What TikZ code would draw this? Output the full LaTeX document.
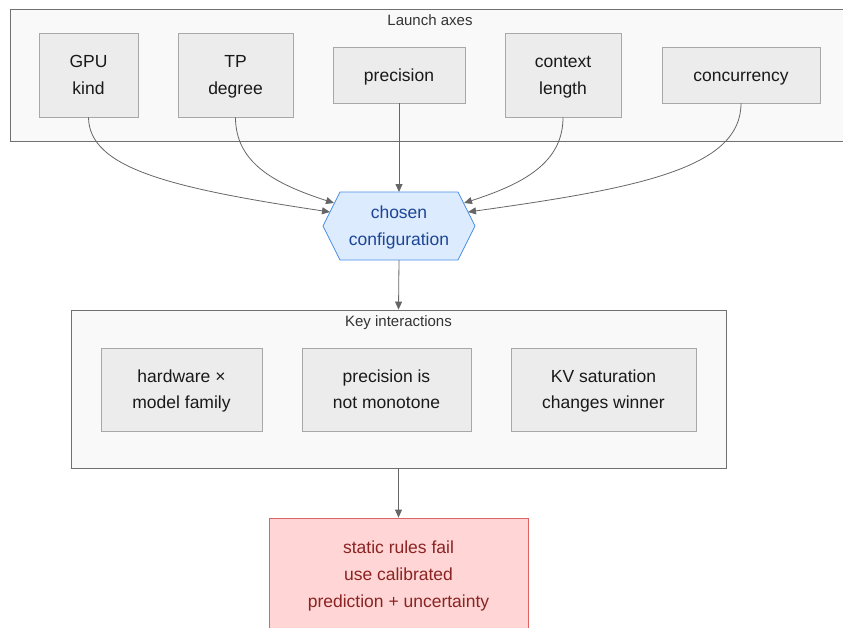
\documentclass[tikz,border=0pt]{standalone}
\usepackage{fontspec}
\setmainfont{Liberation Sans}
\usetikzlibrary{arrows.meta,calc}
\definecolor{framefill}{HTML}{F9F9F9}
\definecolor{framedraw}{HTML}{707070}
\definecolor{boxfill}{HTML}{ECECEC}
\definecolor{boxdraw}{HTML}{A8A8A8}
\definecolor{hexfill}{HTML}{DCEBFD}
\definecolor{hexdraw}{HTML}{4A8FE4}
\definecolor{hextext}{HTML}{1D4596}
\definecolor{redfill}{HTML}{FFD6D5}
\definecolor{reddraw}{HTML}{E06363}
\definecolor{redtext}{HTML}{8A2323}
\definecolor{conncol}{HTML}{666666}
\definecolor{titlecol}{HTML}{333333}
\newcommand{\lstrut}{\rule[-7.2pt]{0pt}{26.5pt}}
\newcommand{\rstrut}{\rule[-7.45pt]{0pt}{27pt}}
\begin{document}
\begin{tikzpicture}[x=1pt,y=-1pt,
  frame/.style={draw=framedraw,fill=framefill,line width=0.8pt,inner sep=0pt},
  axbox/.style={draw=boxdraw,fill=boxfill,line width=0.8pt,inner sep=0pt,align=center,
    text=black!90,font=\fontsize{17.5}{26.5}\selectfont},
  hexbox/.style={inner sep=0pt,align=center,text=hextext,
    minimum width=152pt,minimum height=68pt,font=\fontsize{17.5}{26.5}\selectfont},
  hexline/.style={draw=hexdraw,fill=hexfill,line width=0.8pt,line join=miter},
  redbox/.style={draw=reddraw,fill=redfill,line width=0.8pt,inner sep=0pt,align=center,text=redtext,
    font=\fontsize{17.5}{27}\selectfont},
  ftitle/.style={text=titlecol,font=\fontsize{15}{18}\selectfont,inner sep=0pt},
  conn/.style={draw=conncol,line width=0.8pt,-{Triangle[length=8pt,width=7pt]}}]
\useasboundingbox (0,0) rectangle (843,627);
\clip (0,0) rectangle (843,627);
% Launch axes frame
\node[frame,minimum width=840pt,minimum height=132pt] (launch) at (430,75) {};
\node[ftitle] (launchtitle) at (430,20) {Launch axes};
\node[axbox,minimum width=99pt,minimum height=84pt] (gpu) at (88.5,75) {\lstrut GPU\\\lstrut kind};
\node[axbox,minimum width=115pt,minimum height=84pt] (tp) at (235.5,75) {\lstrut TP\\\lstrut degree};
\node[axbox,minimum width=132pt,minimum height=56pt] (prec) at (399,75) {\lstrut precision};
\node[axbox,minimum width=116pt,minimum height=84pt] (ctx) at (563,75) {\lstrut context\\\lstrut length};
\node[axbox,minimum width=158pt,minimum height=56pt] (conc) at (741,75) {\lstrut concurrency};
% hexagon
\path[hexline] (323,226) -- (340,192) -- (458,192) -- (475,226) -- (458,260) -- (340,260) -- cycle;
\node[hexbox] (hex) at (399,226) {\lstrut chosen\\\lstrut configuration};
\coordinate (hexL1) at (330,212);
\coordinate (hexL2) at (334,203);
\coordinate (hexR1) at (464,203);
\coordinate (hexR2) at (468,212);
\coordinate (hexT) at (399,192);
\coordinate (hexB) at (399,260);
% Key interactions frame
\node[frame,minimum width=655pt,minimum height=158pt] (key) at (398.5,389) {};
\node[ftitle] (keytitle) at (398.5,323) {Key interactions};
\node[axbox,minimum width=161pt,minimum height=83pt] (hw) at (181.5,389.5) {\lstrut hardware ×\\\lstrut model family};
\node[axbox,minimum width=169pt,minimum height=83pt] (pni) at (386.5,389.5) {\lstrut precision is\\\lstrut not monotone};
\node[axbox,minimum width=185pt,minimum height=83pt] (kv) at (603.5,389.5) {\lstrut KV saturation\\\lstrut changes winner};
% result
\node[redbox,minimum width=259pt,minimum height=112pt] (res) at (398.5,574) {\rstrut static rules fail\\\rstrut use calibrated\\\rstrut prediction + uncertainty};
% connectors
\draw[conn] (gpu.south) .. controls (89,168) and (170,188) .. (hexL1);
\draw[conn] (tp.south) .. controls (235.5,163) and (275,184) .. (hexL2);
\draw[conn] (prec.south) -- (hexT);
\draw[conn] (ctx.south) .. controls (563,163) and (523,184) .. (hexR1);
\draw[conn] (conc.south) .. controls (741,168) and (640,188) .. (hexR2);
\draw[conn] (hexB) -- (key.north);
\draw[conn] (key.south) -- (res.north);
\end{tikzpicture}
\end{document}
